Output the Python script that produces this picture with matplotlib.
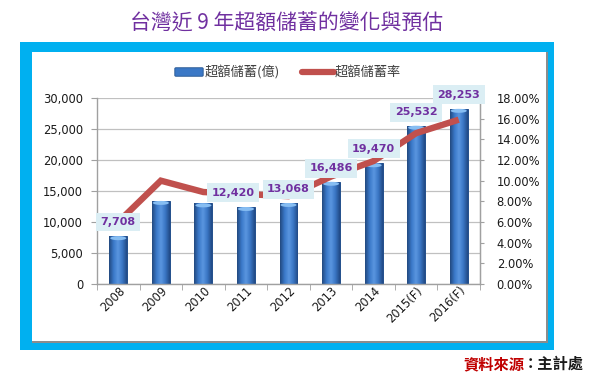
import numpy as np
import matplotlib
matplotlib.use("Agg")
import matplotlib.pyplot as plt
from matplotlib.patches import Rectangle, FancyBboxPatch, Ellipse
from matplotlib.lines import Line2D
from matplotlib.colors import LinearSegmentedColormap
from matplotlib.ticker import FuncFormatter, MultipleLocator, FixedLocator
import matplotlib.transforms as mtransforms

# ---------------- data ----------------
years = ["2008", "2009", "2010", "2011", "2012", "2013", "2014", "2015(F)", "2016(F)"]
excess_savings = [7708, 13400, 13000, 12420, 13068, 16486, 19470, 25532, 28253]  # 億
excess_rate = [6.0, 10.0, 8.9, 8.7, 8.5, 10.4, 11.9, 14.6, 15.9]               # %
labelled_idx = [0, 3, 4, 5, 6, 7, 8]

title = "台灣近 9 年超額儲蓄的變化與預估"
legend_bar = "超額儲蓄(億)"
legend_line = "超額儲蓄率"
source_a = "資料來源"
source_b = "：主計處"

# label placement (layout only): x offset in categories, y position in data units
label_dx = [0.0, -0.3, 0.0, 0.0, 0.0, 0.0, 0.0]
label_y = [10000, 14700, 15300, 18700, 21800, 27700, 30500]

CJK = ["Noto Sans CJK TC", "DejaVu Sans"]
plt.rcParams["font.family"] = ["DejaVu Sans", "Noto Sans CJK TC"]

W, H = 595, 376
fig = plt.figure(figsize=(W / 100, H / 100), dpi=100)
fig.patch.set_facecolor("white")


def fx(x):
    return x / W


def fy(y):
    return 1 - y / H


# ---------------- frame ----------------
fig.patches.append(Rectangle((fx(20), fy(350)), fx(554) - fx(20), fy(42) - fy(350),
                             transform=fig.transFigure, facecolor="#00b0f0", edgecolor="none", zorder=-3))
fig.patches.append(Rectangle((fx(32), fy(343)), fx(548) - fx(32), fy(52) - fy(343),
                             transform=fig.transFigure, facecolor="#8c8c8c", edgecolor="none", zorder=-2))
fig.patches.append(Rectangle((fx(32), fy(341)), fx(546) - fx(32), fy(52) - fy(341),
                             transform=fig.transFigure, facecolor="white", edgecolor="none", zorder=-1))

# ---------------- title / source ----------------
fig.text(fx(287), fy(24), title, family=CJK, fontsize=15, color="#7030a0",
         ha="center", va="center", fontweight="medium")
fig.text(fx(463), fy(364), source_a, family=CJK, fontsize=11, color="#c00000",
         ha="left", va="center", fontweight="bold")
fig.text(fx(584), fy(364), source_b, family=CJK, fontsize=11, color="#1a1a1a",
         ha="right", va="center", fontweight="bold")

# ---------------- axes ----------------
L, R, T, B = 97, 480, 98, 284
ax = fig.add_axes([fx(L), fy(B), fx(R) - fx(L), fy(T) - fy(B)])
ax.set_facecolor("none")
x = np.arange(len(years))
bw = 0.42
bars = ax.bar(x, excess_savings, width=bw, color="#3b78c6", edgecolor="#234f8c",
              linewidth=0.7, zorder=2)

cmap = LinearSegmentedColormap.from_list("cyl", ["#22497f", "#3a78c8", "#5a96e0", "#3a76c4", "#214a86"])
grad = np.linspace(0, 1, 64)[np.newaxis, :]
for b in bars:
    x0, y0 = b.get_x(), b.get_y()
    w, h = b.get_width(), b.get_height()
    im = ax.imshow(grad, extent=[x0, x0 + w, y0, y0 + h], aspect="auto", cmap=cmap, zorder=2.1)
    im.set_clip_path(b)
    cap = Ellipse((x0 + w / 2, y0 + h - 320), w * 0.9, 640, facecolor="#86bdf2",
                  edgecolor="none", zorder=2.2)
    ax.add_patch(cap)

ax.set_xlim(-0.5, len(years) - 0.5)
ax.set_ylim(0, 30000)
ax.yaxis.set_major_locator(MultipleLocator(5000))
ax.yaxis.set_major_formatter(FuncFormatter(lambda v, p: f"{int(v):,}"))
ax.grid(axis="y", color="#c0c0c0", linewidth=0.9, zorder=0)
ax.set_axisbelow(True)

ax.set_xticks(x)
ax.set_xticklabels(years, rotation=45, ha="right", va="top", rotation_mode="anchor", fontsize=8.3,
                   color="#1a1a1a")
for lbl in ax.get_xticklabels():
    lbl.set_transform(lbl.get_transform() + mtransforms.ScaledTranslation(-3 / 100, -13 / 100, fig.dpi_scale_trans))
ax.tick_params(axis="x", which="major", length=0, pad=0)
ax.xaxis.set_minor_locator(FixedLocator(np.arange(-0.5, len(years), 1.0)))
ax.tick_params(axis="x", which="minor", length=4, color="#a0a0a0", direction="out")
ax.tick_params(axis="y", length=4, color="#a0a0a0", labelsize=8.3, labelcolor="#1a1a1a", pad=6)

for s in ["top"]:
    ax.spines[s].set_visible(False)
for s in ["left", "bottom", "right"]:
    ax.spines[s].set_color("#a0a0a0")
    ax.spines[s].set_linewidth(1.0)

ax2 = ax.twinx()
ax2.set_ylim(0, 18)
ax2.yaxis.set_major_locator(MultipleLocator(2))
ax2.yaxis.set_major_formatter(FuncFormatter(lambda v, p: f"{v:.2f}%"))
ax2.tick_params(axis="y", length=3, color="#a0a0a0", labelsize=8.3, labelcolor="#1a1a1a", pad=9)
for s in ["top", "left", "bottom"]:
    ax2.spines[s].set_visible(False)
ax2.spines["right"].set_color("#a0a0a0")
ax2.plot(x, excess_rate, color="#c0504d", linewidth=4.6, solid_joinstyle="miter",
         solid_capstyle="butt", zorder=3)

for k, i in enumerate(labelled_idx):
    ax2.annotate(f"{excess_savings[i]:,}", xy=(x[i] + label_dx[k], label_y[k]), xycoords=ax.transData,
                 ha="center", va="center", fontsize=8, fontweight="bold", color="#7030a0",
                 bbox=dict(boxstyle="square,pad=0.4", facecolor="#dbeef4", edgecolor="none"),
                 annotation_clip=False, zorder=5)

# ---------------- legend ----------------
fig.patches.append(FancyBboxPatch((fx(176), fy(75.5)), fx(202) - fx(176), fy(68.5) - fy(75.5),
                                  boxstyle="round,pad=0.002", transform=fig.transFigure,
                                  facecolor="#3b78c6", edgecolor="#25548f", linewidth=0.6))
fig.text(fx(205), fy(72), legend_bar, family=CJK, fontsize=9.5, color="#404040", ha="left", va="center")
fig.lines.append(Line2D([fx(302), fx(334)], [fy(72), fy(72)], transform=fig.transFigure,
                        color="#c0504d", linewidth=4.5, solid_capstyle="round"))
fig.text(fx(335), fy(72), legend_line, family=CJK, fontsize=9.5, color="#404040", ha="left", va="center")

fig.savefig("out.png", dpi=100)
